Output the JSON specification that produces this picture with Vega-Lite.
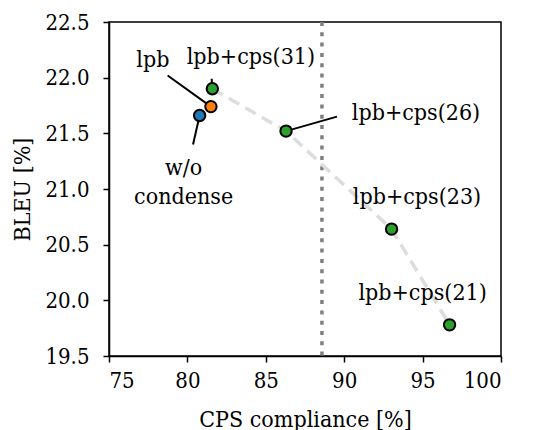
{
  "$schema": "https://vega.github.io/schema/vega-lite/v6.json",
  "width": 392,
  "height": 334,
  "autosize": {"type": "none"},
  "padding": {"left": 109, "top": 22, "right": 34, "bottom": 74},
  "background": "white",
  "config": {
    "font": "DejaVu Serif Condensed",
    "view": {"stroke": "black", "strokeWidth": 1.5},
    "axis": {
      "grid": false,
      "domainColor": "black",
      "domainWidth": 1.5,
      "tickColor": "black",
      "tickWidth": 1.5,
      "tickSize": 6,
      "labelFont": "DejaVu Serif Condensed",
      "labelFontSize": 22,
      "labelColor": "black",
      "titleFont": "DejaVu Serif Condensed",
      "titleFontSize": 23,
      "titleFontWeight": "normal",
      "titleColor": "black"
    }
  },
  "datasets": {
    "points": [
      {"label": "w/o condense", "method": "w/o condense", "cps": 80.78, "bleu": 21.66},
      {"label": "lpb", "method": "lpb", "cps": 81.5, "bleu": 21.74},
      {"label": "lpb+cps(31)", "method": "lpb+cps", "cps": 81.59, "bleu": 21.9},
      {"label": "lpb+cps(26)", "method": "lpb+cps", "cps": 86.29, "bleu": 21.52},
      {"label": "lpb+cps(23)", "method": "lpb+cps", "cps": 93.02, "bleu": 20.64},
      {"label": "lpb+cps(21)", "method": "lpb+cps", "cps": 96.72, "bleu": 19.78}
    ],
    "connectors": [
      {"label": "lpb", "x1": 78.74, "y1": 22.02, "x2": 81.5, "y2": 21.74},
      {"label": "lpb+cps(31)", "x1": 81.55, "y1": 21.99, "x2": 81.59, "y2": 21.9},
      {"label": "w/o condense", "x1": 80.36, "y1": 21.4, "x2": 80.78, "y2": 21.66},
      {"label": "lpb+cps(26)", "x1": 89.54, "y1": 21.65, "x2": 86.29, "y2": 21.52}
    ],
    "labels": [
      {"text": "lpb", "x": 77.8, "y": 22.16},
      {"text": "lpb+cps(31)", "x": 84.05, "y": 22.19},
      {"text": "w/o", "x": 79.76, "y": 21.19},
      {"text": "condense", "x": 79.76, "y": 20.93},
      {"text": "lpb+cps(26)", "x": 94.58, "y": 21.68},
      {"text": "lpb+cps(23)", "x": 94.64, "y": 20.93},
      {"text": "lpb+cps(21)", "x": 95.0, "y": 20.07}
    ],
    "threshold": [{"cps": 88.58}]
  },
  "layer": [
    {
      "data": {"name": "threshold"},
      "mark": {"type": "rule", "color": "#808080", "strokeWidth": 3.5, "strokeDash": [4, 6.3]},
      "encoding": {
        "x": {
          "field": "cps",
          "type": "quantitative",
          "scale": {"domain": [75, 100], "nice": false, "zero": false},
          "axis": {"title": "CPS compliance [%]", "values": [75, 80, 85, 90, 95, 100], "format": "d", "labelPadding": 8, "titlePadding": 17}
        }
      }
    },
    {
      "data": {"name": "points"},
      "transform": [{"filter": "datum.method === 'lpb+cps'"}],
      "mark": {"type": "line", "color": "#dddddd", "strokeWidth": 3.5, "strokeDash": [12, 7]},
      "encoding": {
        "x": {"field": "cps", "type": "quantitative", "scale": {"domain": [75, 100], "nice": false, "zero": false}},
        "y": {
          "field": "bleu",
          "type": "quantitative",
          "scale": {"domain": [19.5, 22.5], "nice": false, "zero": false},
          "axis": {"title": "BLEU [%]", "values": [19.5, 20, 20.5, 21, 21.5, 22, 22.5], "format": ".1f", "labelPadding": 14, "titlePadding": 10}
        },
        "order": {"field": "cps", "type": "quantitative"}
      }
    },
    {
      "data": {"name": "connectors"},
      "mark": {"type": "rule", "color": "black", "strokeWidth": 2},
      "encoding": {
        "x": {"field": "x1", "type": "quantitative"},
        "y": {"field": "y1", "type": "quantitative"},
        "x2": {"field": "x2"},
        "y2": {"field": "y2"}
      }
    },
    {
      "data": {"name": "points"},
      "mark": {"type": "circle", "size": 130, "stroke": "black", "strokeWidth": 2, "opacity": 1},
      "encoding": {
        "x": {"field": "cps", "type": "quantitative"},
        "y": {"field": "bleu", "type": "quantitative"},
        "fill": {
          "field": "method",
          "type": "nominal",
          "scale": {"domain": ["w/o condense", "lpb", "lpb+cps"], "range": ["#1f77b4", "#ff7f0e", "#2ca02c"]},
          "legend": null
        }
      }
    },
    {
      "data": {"name": "labels"},
      "mark": {"type": "text", "font": "DejaVu Serif Condensed", "fontSize": 23, "color": "black", "align": "center", "baseline": "middle"},
      "encoding": {
        "x": {"field": "x", "type": "quantitative"},
        "y": {"field": "y", "type": "quantitative"},
        "text": {"field": "text"}
      }
    }
  ]
}
